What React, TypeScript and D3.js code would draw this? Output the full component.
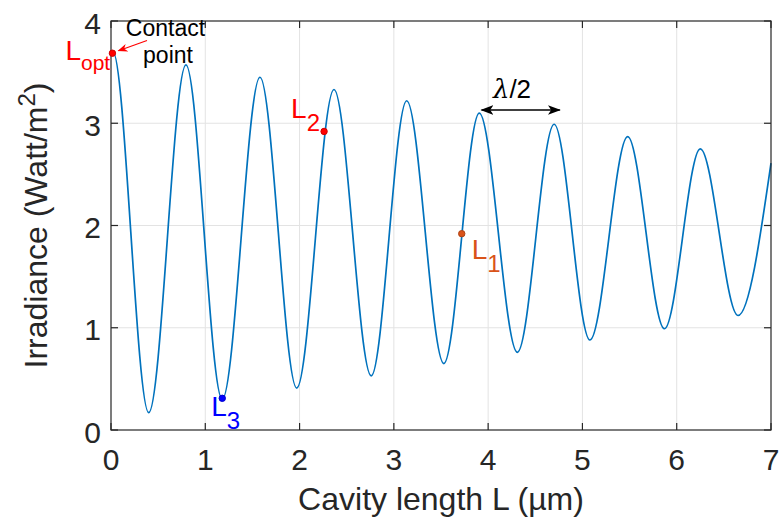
import React from "react";
import * as d3 from "d3";

const cavityLength = [0, 0.02, 0.40, 0.795, 1.18, 1.58, 1.97, 2.365, 2.76, 3.136, 3.53, 3.906, 4.31, 4.70, 5.08, 5.48, 5.87, 6.25, 6.65, 7.0];
const irradiance = [3.68, 3.70, 0.17, 3.57, 0.30, 3.45, 0.41, 3.33, 0.53, 3.22, 0.65, 3.10, 0.76, 2.99, 0.88, 2.87, 0.99, 2.75, 1.12, 2.61];

const xTicks = [0, 1, 2, 3, 4, 5, 6, 7];
const yTicks = [0, 1, 2, 3, 4];

const markerNames = ["opt", "2", "1", "3"];
const markerL = [0.015, 2.26, 3.72, 1.18];
const markerI = [3.685, 2.92, 1.92, 0.31];
const markerColors = ["#ff0000", "#ff0000", "#D95319", "#0000ff"];

const halfWaveStart = 3.93;
const halfWaveEnd = 4.76;
const halfWaveI = 3.13;

const W = 782;
const H = 521;
const M = { left: 111, right: 11, top: 21, bottom: 91 };

export default function App() {
  const x = d3.scaleLinear().domain([0, 7]).range([M.left, W - M.right]);
  const y = d3.scaleLinear().domain([0, 4]).range([H - M.bottom, M.top]);
  const data = cavityLength.map((l, i) => [l, irradiance[i]] as [number, number]);
  const line = d3
    .line<[number, number]>()
    .x((d) => x(d[0]))
    .y((d) => y(d[1]))
    .curve(d3.curveMonotoneX);

  const axisColor = "#262626";
  const font = "'Liberation Sans', Arial, Helvetica, sans-serif";
  const tickLen = 7;
  const x0 = x(0), x1 = x(7), y0 = y(0), y1 = y(4);

  const labelDx = [-47, -33, 10, -11];
  const labelDy = [7, -13, 25, 18];

  return (
    <svg width={W} height={H} style={{ position: "absolute", left: 0, top: 0, background: "#fff" }} fontFamily={font}>
      <defs>
        <marker id="arrRed" viewBox="0 0 10 10" refX="9" refY="5" markerWidth="10" markerHeight="10" markerUnits="userSpaceOnUse" orient="auto">
          <path d="M0,1 L10,5 L0,9 L3,5 Z" fill="#ff0000" />
        </marker>
        <marker id="arrBlk" viewBox="0 0 12 10" refX="11" refY="5" markerWidth="13" markerHeight="11" markerUnits="userSpaceOnUse" orient="auto-start-reverse">
          <path d="M0,0.5 L12,5 L0,9.5 L3,5 Z" fill="#000" />
        </marker>
      </defs>
      <rect x={0} y={0} width={W} height={H} fill="#fff" />
      {xTicks.slice(1, -1).map((t) => (
        <line key={"gx" + t} x1={x(t)} x2={x(t)} y1={y0} y2={y1} stroke="#e3e3e3" strokeWidth={1} />
      ))}
      {yTicks.slice(1, -1).map((t) => (
        <line key={"gy" + t} x1={x0} x2={x1} y1={y(t)} y2={y(t)} stroke="#e3e3e3" strokeWidth={1} />
      ))}
      <path d={line(data) || ""} fill="none" stroke="#0072BD" strokeWidth={1.7} />
      <rect x={x0} y={y1} width={x1 - x0} height={y0 - y1} fill="none" stroke={axisColor} strokeWidth={1.2} />
      {xTicks.map((t) => (
        <g key={"tx" + t}>
          <line x1={x(t)} x2={x(t)} y1={y0} y2={y0 - tickLen} stroke={axisColor} strokeWidth={1.2} />
          <line x1={x(t)} x2={x(t)} y1={y1} y2={y1 + tickLen} stroke={axisColor} strokeWidth={1.2} />
          <text x={x(t)} y={y0 + 40} textAnchor="middle" fontSize={30} fill={axisColor}>{t}</text>
        </g>
      ))}
      {yTicks.map((t) => (
        <g key={"ty" + t}>
          <line x1={x0} x2={x0 + tickLen} y1={y(t)} y2={y(t)} stroke={axisColor} strokeWidth={1.2} />
          <line x1={x1} x2={x1 - tickLen} y1={y(t)} y2={y(t)} stroke={axisColor} strokeWidth={1.2} />
          <text x={x0 - 10} y={y(t)} dy="0.42em" textAnchor="end" fontSize={30} fill={axisColor}>{t}</text>
        </g>
      ))}
      <text x={(x0 + x1) / 2} y={510} textAnchor="middle" fontSize={32} fill={axisColor}>Cavity length L (µm)</text>
      <text transform={`translate(47,${(y0 + y1) / 2}) rotate(-90)`} textAnchor="middle" fontSize={32} fill={axisColor}>
        Irradiance (Watt/m<tspan dy={-12} fontSize={24}>2</tspan><tspan dy={12}>)</tspan>
      </text>
      {markerNames.map((n, i) => {
        const cx = x(markerL[i]);
        const cy = y(markerI[i]);
        return (
          <g key={"m" + n}>
            <circle cx={cx} cy={cy} r={3.2} fill={markerColors[i]} stroke={d3.color(markerColors[i])!.darker(0.6).toString()} strokeWidth={1} />
            <text x={cx + labelDx[i]} y={cy + labelDy[i]} fontSize={28} fill={markerColors[i]}>
              L<tspan dy={n === "opt" ? 10 : 13} fontSize={n === "opt" ? 21 : 24}>{n}</tspan>
            </text>
          </g>
        );
      })}
      <text x={165.5} y={36} textAnchor="middle" fontSize={23} fill="#000">Contact</text>
      <text x={168} y={63} textAnchor="middle" fontSize={23} fill="#000">point</text>
      <line x1={147} y1={40.5} x2={118.5} y2={50.7} stroke="#ff0000" strokeWidth={1.2} markerEnd="url(#arrRed)" />
      <line x1={x(halfWaveStart)} x2={x(halfWaveEnd)} y1={y(halfWaveI)} y2={y(halfWaveI)} stroke="#000" strokeWidth={1.6} markerStart="url(#arrBlk)" markerEnd="url(#arrBlk)" />
      <text x={512} y={98} textAnchor="middle" fontSize={26} fill="#000">
        <tspan fontStyle="italic" fontFamily="'DejaVu Serif', 'Liberation Serif', serif">λ</tspan>/2
      </text>
    </svg>
  );
}
